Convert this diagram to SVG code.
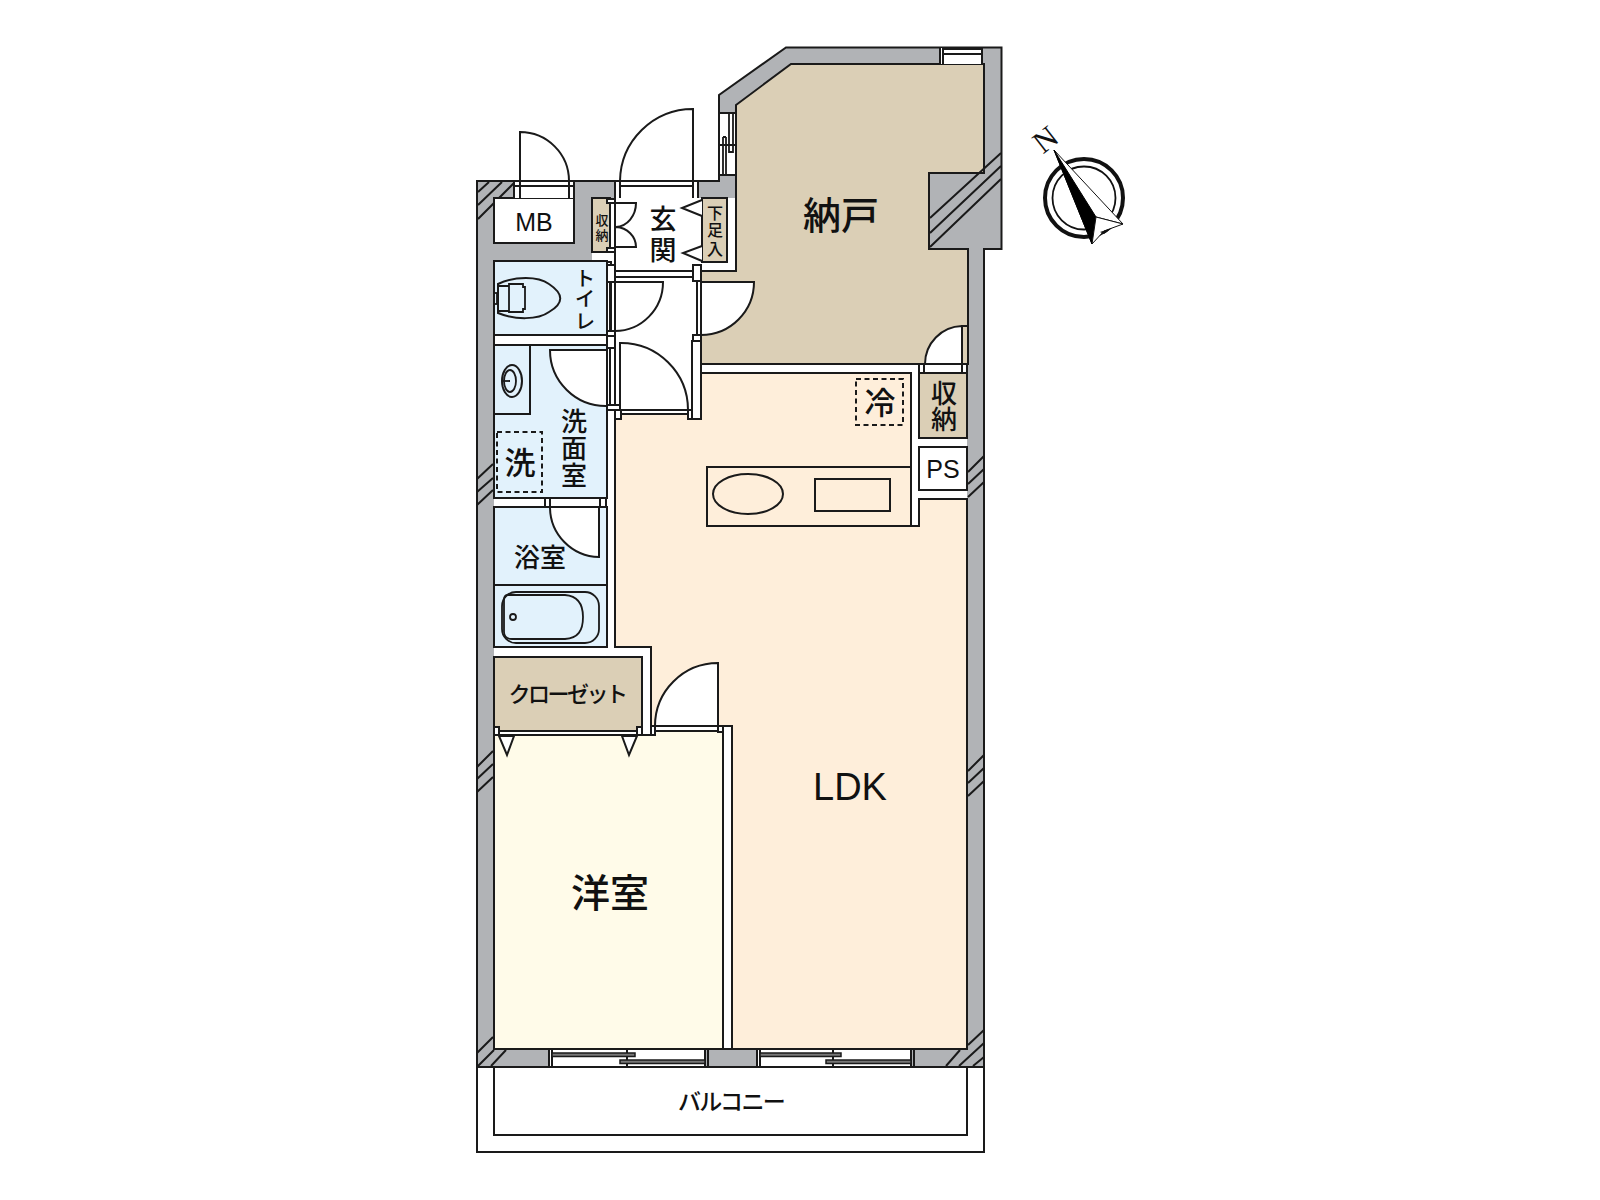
<svg xmlns="http://www.w3.org/2000/svg" width="1600" height="1200" viewBox="0 0 1600 1200">
<style>
.l{fill:none;stroke:#1a1a1a;stroke-width:2}
.t{fill:none;stroke:#1a1a1a;stroke-width:1.8}
.w{fill:#fff;stroke:#1a1a1a;stroke-width:2}
.tan{fill:#dbcfb6;stroke:#1a1a1a;stroke-width:2}
.blue{fill:#e2f2fc;stroke:#1a1a1a;stroke-width:2}
.d{fill:none;stroke:#1a1a1a;stroke-width:2;stroke-dasharray:5 3.5}
.sash{fill:#777;stroke:#1a1a1a;stroke-width:1.5}
text{font-family:"Noto Sans CJK JP","Noto Sans",sans-serif;font-weight:500;fill:#111;text-anchor:middle}
.s{font-family:"Liberation Sans",Arial,sans-serif;font-weight:400}
</style>
<rect width="1600" height="1200" fill="#fff"/>
<g id="balcony"><rect x="477" y="1067" width="507" height="85" class="w"/><rect x="494" y="1067" width="473" height="68" class="w"/>
<text x="731" y="1110" font-size="23" letter-spacing="-1.7">バルコニー</text></g>
<g id="walls">
<path d="M477,181H719V95L786,47.500H1001.500V249H984V1067H477Z" fill="#b1b3b6" stroke="#1a1a1a" stroke-width="2"/>
<path d="M592,198H735V271H701V364H967V1049H494V261H592Z" fill="#fff"/>
<path class="l" d="M489,182L478,192M502,182L478,205M515,182L478,219M493,464L477,479M493,478L477,492M493,490L477,505M493,751L477,767M493,764L477,779M493,777L477,792M984,456L968,472M984,469L968,484M984,482L968,497M984,755L968,771M984,768L968,783M984,781L968,796M493,1037L477,1053M494,1050L478,1066M506,1050L491,1066M960,1050L946,1066M984,1043L959,1066M984,1030L968,1045M984,1057L973,1066"/>
</g>
<g id="storage-room"><path class="tan" d="M736,105L791,64H984V173H929V249H968V364H701V271H736Z"/>
<path class="l" d="M1001,153L930,218M1001,166L930,233M1001,179L930,247"/>
<text x="841" y="229" font-size="38">納戸</text></g>
<g id="window-top"><rect x="940" y="48" width="43" height="16" fill="#fff"/><path class="l" d="M940,47V64M943,47V64M982,47V64M943,49H982M943,54H982"/></g>
<g id="window-left"><rect x="720" y="113" width="15" height="63" fill="#fff"/><path class="l" d="M719,113H736M719,175H736M719,145H736"/><path class="t" d="M729,114V152H733V114M723,137V175M726,137V175M723,137H726"/></g>
<g id="ldk"><path fill="#feeeda" stroke="#1a1a1a" stroke-width="2" d="M701,373H911V526H919V499H967V1049H732V726H651V647H615V419H621V414H692V419H701Z"/>
<ellipse cx="748" cy="494" rx="35" ry="20" class="l"/><rect x="815" y="479" width="75" height="32" class="l"/><rect x="707" y="467" width="204" height="59" class="l"/>
<path d="M911,526H919" class="l"/><rect x="856" y="379" width="47" height="46" class="d"/>
<text x="880" y="414" font-size="31">冷</text>
<text class="s" x="850" y="800" font-size="38">LDK</text></g>
<g id="bedroom"><path fill="#fffbe9" stroke="#1a1a1a" stroke-width="2" d="M494,735H651V731H723V1049H494Z"/><text x="610" y="907" font-size="39">洋室</text></g>
<g id="closet"><rect x="494" y="657" width="148" height="74" class="tan"/><rect x="494" y="731" width="148" height="4" fill="#fff" stroke="#1a1a1a" stroke-width="2"/>
<rect x="494" y="727" width="5" height="8" class="w"/><rect x="637" y="727" width="5" height="8" class="w"/>
<path class="w" d="M499,736H514L507,755Z"/><path class="w" d="M622,736H637L629,755Z"/>
<text x="567" y="702" font-size="22" letter-spacing="-2.5">クローゼット</text></g>
<g id="toilet"><path class="blue" d="M494,261H607V335H494Z"/><rect x="607" y="262" width="4" height="73" class="w"/>
<path class="l" d="M498,284C515,276 538,276 549,284C564,294 564,303 549,312C538,320 515,320 498,313Z"/><path class="t" d="M498,286H509V311H498M509,284H523V287H525V309H523V312H509Z"/><rect x="494" y="293" width="3" height="11" class="t"/>
<text font-size="20"><tspan x="585" y="286">ト</tspan><tspan x="585" y="306">イ</tspan><tspan x="585" y="329">レ</tspan></text></g>
<g id="washroom"><rect x="494" y="345" width="113" height="153" class="blue"/><rect x="494" y="345" width="36" height="69" class="blue"/>
<ellipse cx="512" cy="381" rx="10" ry="16" class="l"/><ellipse cx="510" cy="381" rx="6" ry="11" class="t"/><path class="t" d="M503,381H510"/>
<rect x="497" y="432" width="45" height="60" class="d"/>
<text x="520" y="474" font-size="31">洗</text>
<text font-size="26"><tspan x="574" y="431">洗</tspan><tspan x="574" y="458">面</tspan><tspan x="574" y="485">室</tspan></text>
<path d="M550,350H607V406A56,56 0 0 1 550,350Z" class="w"/></g>
<g id="bathroom"><rect x="494" y="507" width="113" height="140" class="blue"/><path class="l" d="M494,585H607"/>
<rect x="502" y="592" width="97" height="51" rx="14" class="t"/><path class="t" d="M508,595H565C578,596 583,604 583,617C583,631 578,638 565,639H512C507,639 504,636 504,632V600C504,597 505,595 508,595Z"/><circle cx="513" cy="617" r="3" class="t"/>
<text x="540" y="567" font-size="26">浴室</text>
<path d="M550,507H599V557A50,50 0 0 1 550,507Z" class="w"/>
<rect x="545" y="498" width="5" height="9" class="w"/><rect x="600" y="498" width="6" height="9" class="w"/></g>
<g id="mb"><rect x="494" y="198" width="80" height="45" class="w"/><text class="s" x="534" y="231" font-size="25">MB</text></g>
<g id="storage-entry"><rect x="592" y="198" width="18" height="54" class="tan"/><text font-size="13"><tspan x="602" y="225">収</tspan><tspan x="602" y="240">納</tspan></text>
<rect x="607" y="199" width="8" height="4" class="w"/><rect x="607" y="248" width="8" height="4" class="w"/></g>
<g id="entry"><path class="l" d="M615,181V271H700M615,277H693M615,203H636A21,24 0 0 1 616,227A21,20 0 0 1 636,247H615"/>
<rect x="702" y="198" width="25" height="64" class="tan"/>
<path class="w" d="M702,200L682,208L702,216"/><path class="w" d="M702,246L683,253L702,261"/>
<text font-size="16"><tspan x="715" y="219">下</tspan><tspan x="715" y="236">足</tspan><tspan x="715" y="255">入</tspan></text>
<text font-size="27"><tspan x="663" y="229">玄</tspan><tspan x="663" y="260">関</tspan></text></g>
<g id="hall"><path class="l" d="M610,282V332M615,282V405M607,345V406M610,345V406M697,282V335M701,271V364"/>
<rect x="607" y="265" width="8" height="17" class="w"/><rect x="693" y="265" width="8" height="16" class="w"/><rect x="607" y="331" width="8" height="5" class="w"/><rect x="607" y="336" width="8" height="12" class="w"/><rect x="693" y="335" width="8" height="6" class="w"/>
<rect x="607" y="405" width="14" height="5" class="w"/><rect x="615" y="410" width="6" height="9" class="w"/><rect x="688" y="410" width="4" height="9" class="w"/><path class="w" d="M692,341H701V419H692Z"/>
<path class="w" d="M494,335H607V345H494Z"/></g>
<g id="doors">
<rect x="514" y="181" width="60" height="17" fill="#fff"/><rect x="615" y="181" width="83" height="17" fill="#fff"/>
<path class="w" d="M520,181V132A49,49 0 0 1 569,181"/><path class="w" d="M693,181V109A73,73 0 0 0 620,181"/>
<path class="l" d="M514,181V198M520,181V198M569,181V198M574,181V198M514,181H574M514,186H574M615,181V198M620,181V198M693,181V198M698,181V198M615,181H698M620,186H693"/>
<path class="w" d="M615,282H663A48,49 0 0 1 615,331Z"/><path class="w" d="M701,282H754A53,53 0 0 1 701,335Z"/>
<path class="w" d="M620,410V343A67,67 0 0 1 688,410Z"/><path class="l" d="M621,414H688"/>
<path class="w" d="M962,364V326A38,38 0 0 0 925,364Z"/>
<path class="tan" d="M962,326H968V364H962Z"/>
<rect x="919" y="364" width="5" height="9" class="w"/><rect x="962" y="364" width="5" height="9" class="w"/>
<path class="w" d="M718,726V663A63,63 0 0 0 655,726Z"/><path class="l" d="M655,731H719"/>
<rect x="651" y="726" width="4" height="9" class="w"/><rect x="718" y="726" width="5" height="6" class="w"/>
</g>
<g id="storage-ldk"><rect x="919" y="373" width="48" height="65" class="tan"/><text font-size="26"><tspan x="944" y="403">収</tspan><tspan x="944" y="429">納</tspan></text></g>
<g id="ps"><rect x="919" y="447" width="48" height="43" class="w"/><text class="s" x="943" y="478" font-size="25">PS</text></g>
<g id="partition"><path class="w" d="M723,726H732V1049H723Z"/></g>
<g id="windows-south"><rect x="550" y="1050" width="156" height="16" fill="#fff"/><rect x="758" y="1050" width="154" height="16" fill="#fff"/>
<path class="l" d="M549,1049V1067M552,1049V1067M705,1049V1067M708,1049V1067M757,1049V1067M760,1049V1067M911,1049V1067M914,1049V1067M627,1049V1067M833,1049V1067M984,1067H477"/>
<rect x="552" y="1053" width="83" height="3.500" class="sash"/><rect x="620" y="1060" width="85" height="3.500" class="sash"/><rect x="760" y="1053" width="81" height="3.500" class="sash"/><rect x="826" y="1060" width="85" height="3.500" class="sash"/></g>
<g id="north"><circle cx="1084" cy="198" r="39" fill="#fff" stroke="#111" stroke-width="4"/><circle cx="1084" cy="198" r="31.500" fill="#fff" stroke="#111" stroke-width="1.800"/>
<path d="M1054,150L1123,224L1096,217L1092,244Z" fill="#fff" stroke="#111" stroke-width="1"/><path d="M1054,150L1096,217L1092,244Z" fill="#000" stroke="#000" stroke-width="1"/><path d="M1123,224L1096,217L1092,244L1104,231Z" fill="#fff" stroke="#111" stroke-width="1"/><path d="M1100,232L1112,228L1104,234Z" fill="#111"/>
<text transform="translate(1045,139) rotate(-38)" y="11" style="font-family:'Liberation Serif',serif" font-size="31">N</text></g>
</svg>
